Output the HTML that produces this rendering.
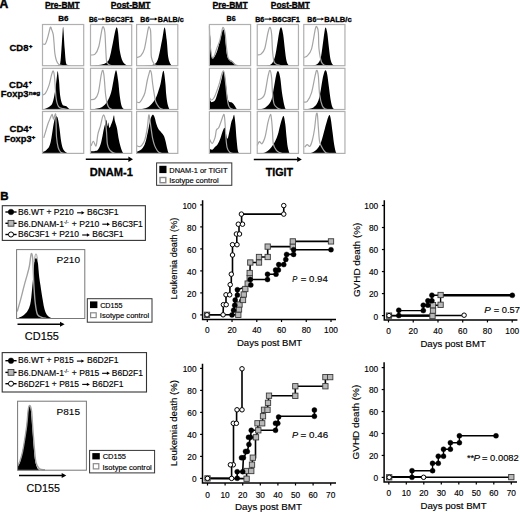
<!DOCTYPE html>
<html><head><meta charset="utf-8"><style>
html,body{margin:0;padding:0;background:#fff;}
body{width:520px;height:512px;overflow:hidden;}
svg{display:block;}
text{font-family:"Liberation Sans", sans-serif;fill:#000;}
</style></head><body>
<svg width="520" height="512" viewBox="0 0 520 512">
<rect width="520" height="512" fill="#fff"/>
<path d="M56.10,65.70 C56.44,65.60 57.47,65.49 58.16,65.08 C58.84,64.67 59.67,65.87 60.22,63.23 C60.77,60.58 61.04,54.64 61.45,49.22 C61.86,43.80 62.41,34.39 62.69,30.68 C62.96,26.97 62.96,26.97 63.10,26.97 C63.24,26.97 63.24,26.97 63.51,30.68 C63.79,34.39 64.34,43.86 64.75,49.22 C65.16,54.58 65.43,60.17 65.98,62.82 C66.53,65.46 67.29,64.60 68.04,65.08 C68.80,65.56 70.10,65.60 70.52,65.70 L70.52,65.70 L56.10,65.70 Z" fill="#000"/>
<path d="M42.50,43.86 C42.98,43.86 44.49,45.03 45.38,43.86 C46.28,42.70 47.03,39.61 47.86,36.86 C48.68,34.11 49.71,28.62 50.33,27.38 C50.95,26.15 51.08,28.28 51.56,29.44 C52.04,30.61 52.80,32.12 53.21,34.39 C53.62,36.65 53.76,39.88 54.04,43.04 C54.31,46.20 54.45,50.39 54.86,53.34 C55.27,56.29 55.82,58.90 56.51,60.76 C57.19,62.61 57.88,63.64 58.98,64.46 C60.08,65.29 62.41,65.49 63.10,65.70" fill="none" stroke="#a4a4a4" stroke-width="1.2"/>
<rect x="42.50" y="24.50" width="41.20" height="41.20" fill="none" stroke="#b0b0b0" stroke-width="1.2"/>
<path d="M43.32,109.50 C44.25,109.09 47.38,108.06 48.89,107.03 C50.40,106.00 51.39,105.72 52.39,103.32 C53.38,100.92 54.10,97.07 54.86,92.61 C55.62,88.14 56.44,80.11 56.92,76.54 C57.40,72.97 57.40,70.57 57.74,71.18 C58.09,71.80 58.57,76.13 58.98,80.25 C59.39,84.37 59.67,91.92 60.22,95.90 C60.77,99.89 61.52,102.50 62.28,104.14 C63.03,105.79 64.06,105.45 64.75,105.79 C65.43,106.14 65.78,105.79 66.40,106.20 C67.01,106.62 67.84,107.71 68.46,108.26 C69.07,108.81 69.83,109.29 70.10,109.50 L70.10,109.50 L43.32,109.50 Z" fill="#000"/>
<path d="M42.50,95.08 C42.98,94.81 44.32,95.01 45.38,93.43 C46.45,91.85 47.86,88.69 48.89,85.60 C49.92,82.51 50.84,77.33 51.56,74.89 C52.28,72.45 52.73,70.70 53.21,70.98 C53.69,71.25 53.97,72.04 54.45,76.54 C54.93,81.04 55.41,92.95 56.10,97.96 C56.78,102.98 57.40,104.83 58.57,106.62 C59.74,108.40 61.66,108.20 63.10,108.68 C64.54,109.16 66.53,109.36 67.22,109.50" fill="none" stroke="#a4a4a4" stroke-width="1.2"/>
<rect x="42.50" y="68.30" width="41.20" height="41.20" fill="none" stroke="#b0b0b0" stroke-width="1.2"/>
<path d="M42.50,152.14 C42.84,152.00 43.87,151.72 44.56,151.31 C45.25,150.89 45.86,150.40 46.62,149.63 C47.38,148.86 48.41,148.02 49.09,146.70 C49.78,145.37 50.26,143.69 50.74,141.67 C51.22,139.64 51.56,137.06 51.98,134.55 C52.39,132.03 52.80,129.03 53.21,126.58 C53.62,124.14 54.04,121.49 54.45,119.88 C54.86,118.27 55.27,117.51 55.68,116.95 C56.10,116.39 56.51,116.04 56.92,116.53 C57.33,117.02 57.71,117.78 58.16,119.88 C58.60,121.97 59.12,125.61 59.60,129.10 C60.08,132.59 60.53,137.69 61.04,140.83 C61.56,143.97 62.00,146.14 62.69,147.95 C63.37,149.77 64.27,150.82 65.16,151.72 C66.05,152.63 67.56,153.12 68.04,153.40 L68.04,153.40 L42.50,153.40 Z" fill="#000"/>
<path d="M43.74,137.90 C44.01,136.99 44.66,134.86 45.38,132.45 C46.11,130.04 47.24,125.84 48.06,123.44 C48.89,121.05 49.68,119.58 50.33,118.08 C50.98,116.58 51.56,114.69 51.98,114.43 C52.39,114.17 52.53,115.76 52.80,116.53 C53.07,117.30 53.28,119.25 53.62,119.04 C53.97,118.83 54.52,116.04 54.86,115.27 C55.20,114.50 55.48,112.97 55.68,114.43 C55.89,115.90 55.96,120.30 56.10,124.07 C56.23,127.84 56.16,133.15 56.51,137.06 C56.85,140.97 57.47,145.02 58.16,147.53 C58.84,150.05 59.67,151.17 60.63,152.14 C61.59,153.12 63.37,153.19 63.92,153.40" fill="none" stroke="#a4a4a4" stroke-width="1.2"/>
<rect x="42.50" y="111.50" width="41.20" height="41.90" fill="none" stroke="#b0b0b0" stroke-width="1.2"/>
<path d="M93.80,65.70 C94.62,65.60 97.23,65.32 98.74,65.08 C100.25,64.84 101.62,64.64 102.86,64.26 C104.10,63.88 105.06,63.81 106.16,62.82 C107.25,61.82 108.35,61.51 109.45,58.28 C110.55,55.06 111.79,47.98 112.75,43.45 C113.71,38.92 114.53,33.77 115.22,31.09 C115.91,28.41 116.39,27.11 116.87,27.38 C117.35,27.66 117.62,28.89 118.10,32.74 C118.58,36.59 119.00,45.72 119.75,50.46 C120.51,55.19 121.54,58.76 122.64,61.17 C123.73,63.57 125.38,64.12 126.34,64.88 C127.31,65.63 128.06,65.56 128.40,65.70 L128.40,65.70 L93.80,65.70 Z" fill="#000"/>
<path d="M90.50,54.99 C91.26,54.85 93.66,55.54 95.03,54.16 C96.41,52.79 97.57,50.94 98.74,46.75 C99.91,42.56 101.21,32.26 102.04,29.03 C102.86,25.80 103.20,26.77 103.68,27.38 C104.16,28.00 104.58,29.17 104.92,32.74 C105.26,36.31 105.47,44.07 105.74,48.81 C106.02,53.55 106.09,58.56 106.57,61.17 C107.05,63.78 107.74,63.71 108.63,64.46 C109.52,65.22 111.37,65.49 111.92,65.70" fill="none" stroke="#a4a4a4" stroke-width="1.2"/>
<rect x="90.50" y="24.50" width="41.20" height="41.20" fill="none" stroke="#b0b0b0" stroke-width="1.2"/>
<path d="M92.97,109.50 C94.48,109.09 99.63,108.40 102.04,107.03 C104.44,105.65 105.88,103.66 107.39,101.26 C108.90,98.86 110.07,96.11 111.10,92.61 C112.13,89.11 112.75,83.96 113.57,80.25 C114.40,76.54 115.29,70.36 116.04,70.36 C116.80,70.36 117.49,75.99 118.10,80.25 C118.72,84.51 119.13,91.51 119.75,95.90 C120.37,100.30 121.06,104.35 121.81,106.62 C122.57,108.88 123.87,109.02 124.28,109.50 L124.28,109.50 L92.97,109.50 Z" fill="#000"/>
<path d="M90.50,99.61 C91.26,99.47 93.73,99.96 95.03,98.79 C96.34,97.62 97.30,96.59 98.33,92.61 C99.36,88.63 100.46,78.60 101.21,74.89 C101.97,71.18 102.38,70.09 102.86,70.36 C103.34,70.63 103.62,72.28 104.10,76.54 C104.58,80.80 105.06,90.89 105.74,95.90 C106.43,100.92 107.19,104.35 108.22,106.62 C109.25,108.88 111.31,109.02 111.92,109.50" fill="none" stroke="#a4a4a4" stroke-width="1.2"/>
<rect x="90.50" y="68.30" width="41.20" height="41.20" fill="none" stroke="#b0b0b0" stroke-width="1.2"/>
<path d="M90.50,151.72 C90.60,151.65 90.36,151.44 91.12,151.31 C91.87,151.17 93.90,151.17 95.03,150.89 C96.16,150.61 96.99,150.75 97.92,149.63 C98.84,148.51 99.84,146.42 100.59,144.18 C101.35,141.95 101.86,138.94 102.45,136.22 C103.03,133.50 103.51,130.29 104.10,127.84 C104.68,125.40 105.54,122.88 105.95,121.56 C106.36,120.23 106.33,119.11 106.57,119.88 C106.81,120.65 107.12,125.75 107.39,126.16 C107.67,126.58 107.87,122.11 108.22,122.39 C108.56,122.67 108.97,127.49 109.45,127.84 C109.93,128.19 110.55,125.82 111.10,124.49 C111.65,123.16 112.27,121.42 112.75,119.88 C113.23,118.34 113.64,115.13 113.98,115.27 C114.33,115.41 114.33,118.62 114.81,120.72 C115.29,122.81 116.25,124.98 116.87,127.84 C117.49,130.70 117.90,134.75 118.52,137.90 C119.13,141.04 119.89,144.32 120.58,146.70 C121.26,149.07 122.02,151.03 122.64,152.14 C123.25,153.26 124.01,153.19 124.28,153.40 L124.28,153.40 L90.50,153.40 Z" fill="#000"/>
<path d="M91.12,145.86 C91.50,145.09 92.56,141.25 93.38,141.25 C94.21,141.25 95.31,147.05 96.06,145.86 C96.82,144.67 97.16,137.55 97.92,134.13 C98.67,130.70 99.84,128.16 100.59,125.33 C101.35,122.50 101.93,118.90 102.45,117.16 C102.96,115.41 103.31,114.85 103.68,114.85 C104.06,114.85 104.41,116.04 104.71,117.16 C105.02,118.27 105.23,119.01 105.54,121.56 C105.85,124.10 106.26,128.68 106.57,132.45 C106.88,136.22 106.91,141.32 107.39,144.18 C107.87,147.05 108.63,148.30 109.45,149.63 C110.28,150.96 111.37,151.51 112.34,152.14 C113.30,152.77 114.74,153.19 115.22,153.40" fill="none" stroke="#a4a4a4" stroke-width="1.2"/>
<rect x="90.50" y="111.50" width="41.20" height="41.90" fill="none" stroke="#b0b0b0" stroke-width="1.2"/>
<path d="M144.84,65.70 C145.53,65.63 147.24,65.63 148.96,65.29 C150.68,64.94 153.56,64.94 155.14,63.64 C156.72,62.34 157.27,61.44 158.44,57.46 C159.60,53.48 161.11,44.76 162.14,39.74 C163.17,34.73 163.86,27.38 164.62,27.38 C165.37,27.38 166.06,34.73 166.68,39.74 C167.29,44.76 167.64,53.34 168.32,57.46 C169.01,61.58 170.04,63.09 170.80,64.46 C171.55,65.84 172.51,65.49 172.86,65.70 L172.86,65.70 L144.84,65.70 Z" fill="#000"/>
<path d="M136.60,57.46 C137.29,57.19 139.42,57.25 140.72,55.81 C142.02,54.37 143.19,53.27 144.43,48.81 C145.66,44.34 147.31,32.60 148.14,29.03 C148.96,25.46 148.96,27.07 149.37,27.38 C149.78,27.69 150.33,28.28 150.61,30.89 C150.88,33.50 150.88,38.61 151.02,43.04 C151.16,47.47 150.88,53.89 151.43,57.46 C151.98,61.03 153.35,63.09 154.32,64.46 C155.28,65.84 156.72,65.49 157.20,65.70" fill="none" stroke="#a4a4a4" stroke-width="1.2"/>
<rect x="136.60" y="24.50" width="41.20" height="41.20" fill="none" stroke="#b0b0b0" stroke-width="1.2"/>
<path d="M139.48,109.50 C140.79,109.16 145.25,108.40 147.31,107.44 C149.37,106.48 150.47,105.24 151.84,103.73 C153.22,102.22 154.52,100.30 155.55,98.38 C156.58,96.45 157.20,94.60 158.02,92.20 C158.85,89.79 159.81,86.84 160.50,83.96 C161.18,81.07 161.66,77.09 162.14,74.89 C162.62,72.69 163.04,71.05 163.38,70.77 C163.72,70.50 163.86,71.05 164.20,73.24 C164.55,75.44 165.10,80.32 165.44,83.96 C165.78,87.60 165.92,91.78 166.26,95.08 C166.61,98.38 167.02,101.47 167.50,103.73 C167.98,106.00 168.67,107.71 169.15,108.68 C169.63,109.64 170.18,109.36 170.38,109.50 L170.38,109.50 L139.48,109.50 Z" fill="#000"/>
<path d="M137.01,102.08 C137.42,102.15 138.66,102.98 139.48,102.50 C140.31,102.02 141.06,100.78 141.96,99.20 C142.85,97.62 143.95,96.18 144.84,93.02 C145.73,89.86 146.56,83.68 147.31,80.25 C148.07,76.81 148.89,74.07 149.37,72.42 C149.85,70.77 149.85,70.22 150.20,70.36 C150.54,70.50 151.02,70.98 151.43,73.24 C151.84,75.51 152.19,80.39 152.67,83.96 C153.15,87.53 153.84,91.78 154.32,94.67 C154.80,97.55 155.00,99.47 155.55,101.26 C156.10,103.05 156.86,104.21 157.61,105.38 C158.37,106.55 159.12,107.58 160.08,108.26 C161.05,108.95 162.83,109.29 163.38,109.50" fill="none" stroke="#a4a4a4" stroke-width="1.2"/>
<rect x="136.60" y="68.30" width="41.20" height="41.20" fill="none" stroke="#b0b0b0" stroke-width="1.2"/>
<path d="M136.60,151.72 C136.94,151.58 137.84,151.31 138.66,150.89 C139.48,150.47 140.65,150.05 141.54,149.21 C142.44,148.37 143.26,147.39 144.02,145.86 C144.77,144.32 145.39,142.58 146.08,139.99 C146.76,137.41 147.52,133.36 148.14,130.35 C148.75,127.35 149.23,124.28 149.78,121.97 C150.33,119.67 150.88,117.72 151.43,116.53 C151.98,115.34 152.53,114.64 153.08,114.85 C153.63,115.06 154.18,116.25 154.73,117.78 C155.28,119.32 155.76,122.18 156.38,124.07 C156.99,125.96 157.61,127.70 158.44,129.10 C159.26,130.49 160.43,131.33 161.32,132.45 C162.21,133.57 163.11,134.41 163.79,135.80 C164.48,137.20 164.89,138.73 165.44,140.83 C165.99,142.92 166.61,146.42 167.09,148.37 C167.57,150.33 167.91,151.72 168.32,152.56 C168.74,153.40 169.35,153.26 169.56,153.40 L169.56,153.40 L136.60,153.40 Z" fill="#000"/>
<path d="M137.01,145.86 C137.42,146.00 138.66,146.84 139.48,146.70 C140.31,146.56 141.06,146.21 141.96,145.02 C142.85,143.83 143.95,142.44 144.84,139.57 C145.73,136.71 146.66,131.89 147.31,127.84 C147.96,123.79 148.34,116.74 148.75,115.27 C149.17,113.80 149.41,116.95 149.78,119.04 C150.16,121.14 150.54,124.56 151.02,127.84 C151.50,131.12 152.05,135.73 152.67,138.74 C153.29,141.74 153.97,143.90 154.73,145.86 C155.48,147.81 156.51,149.42 157.20,150.47 C157.89,151.51 158.16,151.65 158.85,152.14 C159.53,152.63 160.91,153.19 161.32,153.40" fill="none" stroke="#a4a4a4" stroke-width="1.2"/>
<rect x="136.60" y="111.50" width="41.20" height="41.90" fill="none" stroke="#b0b0b0" stroke-width="1.2"/>
<path d="M209.40,29.44 C209.54,30.68 209.98,33.56 210.22,36.86 C210.46,40.16 210.57,45.92 210.84,49.22 C211.12,52.52 211.43,55.26 211.87,56.64 C212.32,58.01 212.97,57.67 213.52,57.46 C214.07,57.25 214.55,56.50 215.17,55.40 C215.79,54.30 216.47,53.13 217.23,50.87 C217.98,48.60 219.01,44.48 219.70,41.80 C220.39,39.13 220.80,36.86 221.35,34.80 C221.90,32.74 222.45,29.79 223.00,29.44 C223.55,29.10 224.16,30.20 224.64,32.74 C225.12,35.28 225.47,40.91 225.88,44.69 C226.29,48.46 226.57,52.93 227.12,55.40 C227.67,57.87 228.42,58.63 229.18,59.52 C229.93,60.41 230.82,60.14 231.65,60.76 C232.47,61.37 233.30,62.40 234.12,63.23 C234.94,64.05 236.18,65.29 236.59,65.70 L236.59,65.70 L209.40,65.70 Z" fill="#000"/>
<path d="M209.40,25.74 C209.47,27.59 209.61,32.95 209.81,36.86 C210.02,40.77 210.22,45.72 210.64,49.22 C211.05,52.72 211.70,56.70 212.28,57.87 C212.87,59.04 213.52,57.39 214.14,56.22 C214.76,55.06 215.48,52.38 215.99,50.87 C216.51,49.36 216.61,48.81 217.23,47.16 C217.85,45.51 219.01,43.25 219.70,40.98 C220.39,38.71 220.80,35.83 221.35,33.56 C221.90,31.30 222.38,27.52 223.00,27.38 C223.61,27.25 224.51,29.72 225.06,32.74 C225.61,35.76 225.81,41.46 226.29,45.51 C226.77,49.56 227.25,54.51 227.94,57.05 C228.63,59.59 229.73,60.00 230.41,60.76 C231.10,61.51 231.30,60.96 232.06,61.58 C232.82,62.20 233.91,63.78 234.94,64.46 C235.97,65.15 237.69,65.49 238.24,65.70" fill="none" stroke="#a4a4a4" stroke-width="1.2"/>
<rect x="209.40" y="24.50" width="41.20" height="41.20" fill="none" stroke="#b0b0b0" stroke-width="1.2"/>
<path d="M209.40,97.96 C209.61,98.51 210.16,100.57 210.64,101.26 C211.12,101.95 211.53,102.29 212.28,102.08 C213.04,101.88 214.28,101.53 215.17,100.02 C216.06,98.51 216.75,95.84 217.64,93.02 C218.53,90.20 219.77,85.95 220.52,83.13 C221.28,80.32 221.69,78.12 222.17,76.13 C222.65,74.14 223.00,71.39 223.41,71.18 C223.82,70.98 224.23,72.76 224.64,74.89 C225.06,77.02 225.47,80.66 225.88,83.96 C226.29,87.25 226.70,91.92 227.12,94.67 C227.53,97.41 227.87,99.20 228.35,100.44 C228.83,101.67 229.31,101.67 230.00,102.08 C230.69,102.50 231.72,102.36 232.47,102.91 C233.23,103.46 233.85,104.42 234.53,105.38 C235.22,106.34 236.04,107.99 236.59,108.68 C237.14,109.36 237.62,109.36 237.83,109.50 L237.83,109.50 L209.40,109.50 Z" fill="#000"/>
<path d="M209.40,97.55 C209.74,97.96 210.67,100.02 211.46,100.02 C212.25,100.02 213.25,99.06 214.14,97.55 C215.03,96.04 215.89,93.50 216.82,90.96 C217.74,88.42 218.88,85.12 219.70,82.31 C220.52,79.49 221.14,75.99 221.76,74.07 C222.38,72.15 222.93,70.63 223.41,70.77 C223.89,70.91 224.23,72.42 224.64,74.89 C225.06,77.36 225.47,81.83 225.88,85.60 C226.29,89.38 226.67,94.26 227.12,97.55 C227.56,100.85 228.01,103.59 228.56,105.38 C229.11,107.17 229.62,107.58 230.41,108.26 C231.20,108.95 232.82,109.29 233.30,109.50" fill="none" stroke="#a4a4a4" stroke-width="1.2"/>
<rect x="209.40" y="68.30" width="41.20" height="41.20" fill="none" stroke="#b0b0b0" stroke-width="1.2"/>
<path d="M209.40,148.79 C209.88,148.93 211.32,149.98 212.28,149.63 C213.25,149.28 214.28,147.60 215.17,146.70 C216.06,145.79 216.75,145.65 217.64,144.18 C218.53,142.72 219.70,139.99 220.52,137.90 C221.35,135.80 221.90,133.29 222.58,131.61 C223.27,129.94 224.09,127.56 224.64,127.84 C225.19,128.12 225.40,131.47 225.88,133.29 C226.36,135.10 226.91,139.15 227.53,138.74 C228.15,138.32 228.97,133.50 229.59,130.77 C230.21,128.05 230.69,124.49 231.24,122.39 C231.79,120.30 232.40,119.46 232.88,118.20 C233.36,116.95 233.71,113.94 234.12,114.85 C234.53,115.76 234.94,119.53 235.36,123.65 C235.77,127.77 236.18,135.10 236.59,139.57 C237.00,144.04 237.42,148.23 237.83,150.47 C238.24,152.70 238.72,152.49 239.06,152.98 C239.41,153.47 239.75,153.33 239.89,153.40 L239.89,153.40 L209.40,153.40 Z" fill="#000"/>
<path d="M209.40,138.74 C209.88,139.50 211.32,143.62 212.28,143.34 C213.25,143.06 214.48,139.29 215.17,137.06 C215.85,134.82 215.82,131.47 216.40,129.94 C216.99,128.40 217.85,129.38 218.67,127.84 C219.49,126.30 220.46,122.95 221.35,120.72 C222.24,118.48 223.41,113.94 224.03,114.43 C224.64,114.92 224.75,119.88 225.06,123.65 C225.37,127.42 225.54,133.08 225.88,137.06 C226.22,141.04 226.50,145.02 227.12,147.53 C227.73,150.05 228.70,151.17 229.59,152.14 C230.48,153.12 231.99,153.19 232.47,153.40" fill="none" stroke="#a4a4a4" stroke-width="1.2"/>
<rect x="209.40" y="111.50" width="41.20" height="41.90" fill="none" stroke="#b0b0b0" stroke-width="1.2"/>
<path d="M266.31,65.70 C267.21,65.36 270.23,65.15 271.67,63.64 C273.11,62.13 274.00,60.07 274.97,56.64 C275.93,53.20 276.68,47.37 277.44,43.04 C278.19,38.71 278.85,33.29 279.50,30.68 C280.15,28.07 280.73,26.70 281.35,27.38 C281.97,28.07 282.62,31.16 283.21,34.80 C283.79,38.44 284.30,44.89 284.85,49.22 C285.40,53.55 285.88,58.08 286.50,60.76 C287.12,63.43 287.94,64.46 288.56,65.29 C289.18,66.11 289.94,65.63 290.21,65.70 L290.21,65.70 L266.31,65.70 Z" fill="#000"/>
<path d="M257.25,54.99 C257.87,54.85 259.72,55.19 260.96,54.16 C262.19,53.13 263.50,52.38 264.67,48.81 C265.83,45.24 267.07,36.31 267.96,32.74 C268.85,29.17 269.40,27.11 270.02,27.38 C270.64,27.66 271.26,30.54 271.67,34.39 C272.08,38.23 272.08,45.86 272.49,50.46 C272.91,55.06 273.25,59.59 274.14,61.99 C275.03,64.40 276.68,64.26 277.85,64.88 C279.02,65.49 280.60,65.56 281.15,65.70" fill="none" stroke="#a4a4a4" stroke-width="1.2"/>
<rect x="257.25" y="24.50" width="41.20" height="41.20" fill="none" stroke="#b0b0b0" stroke-width="1.2"/>
<path d="M257.25,109.50 C257.73,109.43 258.76,109.43 260.13,109.09 C261.51,108.74 263.70,108.74 265.49,107.44 C267.28,106.14 269.54,104.01 270.85,101.26 C272.15,98.51 272.43,95.35 273.32,90.96 C274.21,86.57 275.38,78.19 276.20,74.89 C277.03,71.60 277.58,70.63 278.26,71.18 C278.95,71.73 279.70,74.62 280.32,78.19 C280.94,81.76 281.35,88.28 281.97,92.61 C282.59,96.93 283.41,101.40 284.03,104.14 C284.65,106.89 285.20,108.20 285.68,109.09 C286.16,109.98 286.71,109.43 286.91,109.50 L286.91,109.50 L257.25,109.50 Z" fill="#000"/>
<path d="M257.25,99.61 C257.87,99.47 259.72,99.68 260.96,98.79 C262.19,97.90 263.50,97.96 264.67,94.26 C265.83,90.55 267.07,80.52 267.96,76.54 C268.85,72.56 269.40,70.09 270.02,70.36 C270.64,70.63 271.26,74.48 271.67,78.19 C272.08,81.90 272.08,88.28 272.49,92.61 C272.91,96.93 273.25,101.53 274.14,104.14 C275.03,106.75 276.68,107.37 277.85,108.26 C279.02,109.16 280.60,109.29 281.15,109.50" fill="none" stroke="#a4a4a4" stroke-width="1.2"/>
<rect x="257.25" y="68.30" width="41.20" height="41.20" fill="none" stroke="#b0b0b0" stroke-width="1.2"/>
<path d="M261.37,153.40 C262.06,153.19 264.12,152.84 265.49,152.14 C266.86,151.44 268.37,150.40 269.61,149.21 C270.85,148.02 271.94,146.42 272.91,145.02 C273.87,143.62 274.55,142.58 275.38,140.83 C276.20,139.08 277.09,136.99 277.85,134.55 C278.61,132.10 279.22,128.75 279.91,126.16 C280.60,123.58 281.35,120.72 281.97,119.04 C282.59,117.37 283.07,115.27 283.62,116.11 C284.17,116.95 284.79,120.65 285.27,124.07 C285.75,127.49 286.09,132.80 286.50,136.64 C286.91,140.48 287.26,144.39 287.74,147.12 C288.22,149.84 288.97,151.93 289.39,152.98 C289.80,154.03 290.07,153.33 290.21,153.40 L290.21,153.40 L261.37,153.40 Z" fill="#000"/>
<path d="M257.25,145.44 C257.59,144.81 258.52,141.95 259.31,141.67 C260.10,141.39 261.10,144.32 261.99,143.76 C262.88,143.20 263.94,140.41 264.67,138.32 C265.39,136.22 265.76,133.85 266.31,131.19 C266.86,128.54 267.28,125.19 267.96,122.39 C268.65,119.60 269.82,114.71 270.43,114.43 C271.05,114.15 271.33,117.92 271.67,120.72 C272.01,123.51 272.22,127.35 272.49,131.19 C272.77,135.03 272.70,140.62 273.32,143.76 C273.94,146.91 275.17,148.58 276.20,150.05 C277.23,151.51 278.54,152.00 279.50,152.56 C280.46,153.12 281.56,153.26 281.97,153.40" fill="none" stroke="#a4a4a4" stroke-width="1.2"/>
<rect x="257.25" y="111.50" width="41.20" height="41.90" fill="none" stroke="#b0b0b0" stroke-width="1.2"/>
<path d="M311.99,65.70 C312.88,65.43 315.90,65.29 317.35,64.05 C318.79,62.82 319.75,61.44 320.64,58.28 C321.53,55.13 322.08,49.36 322.70,45.10 C323.32,40.84 323.87,35.69 324.35,32.74 C324.83,29.79 325.11,27.38 325.59,27.38 C326.07,27.38 326.68,29.44 327.23,32.74 C327.78,36.04 328.33,42.70 328.88,47.16 C329.43,51.62 329.91,56.64 330.53,59.52 C331.15,62.40 331.90,63.43 332.59,64.46 C333.28,65.49 334.31,65.49 334.65,65.70 L334.65,65.70 L311.99,65.70 Z" fill="#000"/>
<path d="M303.75,57.46 C304.33,57.19 305.95,57.25 307.25,55.81 C308.56,54.37 310.24,53.27 311.58,48.81 C312.92,44.34 314.39,32.67 315.29,29.03 C316.18,25.39 316.42,26.35 316.93,26.97 C317.45,27.59 318.03,29.10 318.38,32.74 C318.72,36.38 318.48,43.93 318.99,48.81 C319.51,53.68 320.50,59.25 321.47,61.99 C322.43,64.74 323.73,64.67 324.76,65.29 C325.79,65.91 327.17,65.63 327.65,65.70" fill="none" stroke="#a4a4a4" stroke-width="1.2"/>
<rect x="303.75" y="24.50" width="41.20" height="41.20" fill="none" stroke="#b0b0b0" stroke-width="1.2"/>
<path d="M303.75,109.50 C304.16,109.43 304.61,109.43 306.22,109.09 C307.84,108.74 311.51,108.61 313.43,107.44 C315.35,106.27 316.62,104.49 317.76,102.08 C318.89,99.68 319.47,96.59 320.23,93.02 C320.99,89.45 321.67,83.96 322.29,80.66 C322.91,77.36 323.39,74.96 323.94,73.24 C324.49,71.53 325.04,70.15 325.59,70.36 C326.14,70.57 326.68,71.73 327.23,74.48 C327.78,77.23 328.33,82.72 328.88,86.84 C329.43,90.96 329.98,95.90 330.53,99.20 C331.08,102.50 331.63,104.97 332.18,106.62 C332.73,108.26 333.35,108.61 333.83,109.09 C334.31,109.57 334.86,109.43 335.06,109.50 L335.06,109.50 L303.75,109.50 Z" fill="#000"/>
<path d="M303.75,102.08 C304.33,101.95 305.95,102.84 307.25,101.26 C308.56,99.68 310.24,97.00 311.58,92.61 C312.92,88.21 314.39,78.60 315.29,74.89 C316.18,71.18 316.42,70.09 316.93,70.36 C317.45,70.63 317.93,72.56 318.38,76.54 C318.82,80.52 318.96,89.38 319.61,94.26 C320.26,99.13 321.29,103.32 322.29,105.79 C323.29,108.26 324.56,108.47 325.59,109.09 C326.62,109.71 327.99,109.43 328.47,109.50" fill="none" stroke="#a4a4a4" stroke-width="1.2"/>
<rect x="303.75" y="68.30" width="41.20" height="41.20" fill="none" stroke="#b0b0b0" stroke-width="1.2"/>
<path d="M308.69,153.40 C309.38,153.19 311.44,152.84 312.81,152.14 C314.19,151.44 315.70,150.54 316.93,149.21 C318.17,147.88 319.27,146.28 320.23,144.18 C321.19,142.09 321.95,139.15 322.70,136.64 C323.46,134.13 324.08,131.61 324.76,129.10 C325.45,126.58 326.20,123.65 326.82,121.56 C327.44,119.46 327.99,117.58 328.47,116.53 C328.95,115.48 329.29,114.71 329.71,115.27 C330.12,115.83 330.46,117.02 330.94,119.88 C331.42,122.74 332.04,128.26 332.59,132.45 C333.14,136.64 333.69,141.74 334.24,145.02 C334.79,148.30 335.34,150.75 335.89,152.14 C336.44,153.54 337.26,153.19 337.53,153.40 L337.53,153.40 L308.69,153.40 Z" fill="#000"/>
<path d="M304.57,147.12 C305.02,146.70 306.36,144.74 307.25,144.60 C308.14,144.46 309.07,147.05 309.93,146.28 C310.79,145.51 311.65,142.79 312.40,139.99 C313.16,137.20 313.84,133.64 314.46,129.52 C315.08,125.40 315.63,117.78 316.11,115.27 C316.59,112.76 316.97,112.34 317.35,114.43 C317.72,116.53 318.00,123.30 318.38,127.84 C318.75,132.38 318.96,138.32 319.61,141.67 C320.26,145.02 321.29,146.14 322.29,147.95 C323.29,149.77 324.56,151.65 325.59,152.56 C326.62,153.47 327.99,153.26 328.47,153.40" fill="none" stroke="#a4a4a4" stroke-width="1.2"/>
<rect x="303.75" y="111.50" width="41.20" height="41.90" fill="none" stroke="#b0b0b0" stroke-width="1.2"/>
<text x="-0.50" y="8.30" font-size="12.20" font-weight="bold" font-style="normal" textLength="8.73" lengthAdjust="spacingAndGlyphs" stroke="#000" stroke-width="0.50" >A</text>
<text x="44.95" y="7.70" font-size="8.35" font-weight="bold" font-style="normal" textLength="34.75" lengthAdjust="spacingAndGlyphs" stroke="#000" stroke-width="0.30" >Pre-BMT</text>
<line x1="45.50" y1="8.60" x2="79.60" y2="8.60" stroke="#000" stroke-width="0.9"/>
<text x="110.75" y="7.70" font-size="8.40" font-weight="bold" font-style="normal" textLength="39.75" lengthAdjust="spacingAndGlyphs" stroke="#000" stroke-width="0.30" >Post-BMT</text>
<line x1="111.30" y1="8.60" x2="150.40" y2="8.60" stroke="#000" stroke-width="0.9"/>
<text x="212.44" y="7.70" font-size="8.45" font-weight="bold" font-style="normal" textLength="35.36" lengthAdjust="spacingAndGlyphs" stroke="#000" stroke-width="0.30" >Pre-BMT</text>
<line x1="213.00" y1="8.60" x2="247.70" y2="8.60" stroke="#000" stroke-width="0.9"/>
<text x="270.86" y="7.70" font-size="8.29" font-weight="bold" font-style="normal" textLength="39.04" lengthAdjust="spacingAndGlyphs" stroke="#000" stroke-width="0.30" >Post-BMT</text>
<line x1="271.40" y1="8.60" x2="309.80" y2="8.60" stroke="#000" stroke-width="0.9"/>
<text x="58.23" y="21.40" font-size="7.76" font-weight="bold" font-style="normal" textLength="10.17" lengthAdjust="spacingAndGlyphs" stroke="#000" stroke-width="0.30" >B6</text>
<text x="88.96" y="21.60" font-size="7.06" font-weight="bold" font-style="normal" textLength="8.59" lengthAdjust="spacingAndGlyphs" stroke="#000" stroke-width="0.30" >B6</text>
<line x1="98.00" y1="19.10" x2="102.70" y2="19.10" stroke="#000" stroke-width="1.00"/>
<path d="M105.20,19.10 L102.40,17.60 L102.40,20.60 Z" fill="#000"/>
<text x="105.20" y="21.60" font-size="7.69" font-weight="bold" font-style="normal" textLength="28.38" lengthAdjust="spacingAndGlyphs" stroke="#000" stroke-width="0.30" >B6C3F1</text>
<text x="140.35" y="21.60" font-size="7.24" font-weight="bold" font-style="normal" textLength="8.92" lengthAdjust="spacingAndGlyphs" stroke="#000" stroke-width="0.30" >B6</text>
<line x1="149.50" y1="19.10" x2="155.10" y2="19.10" stroke="#000" stroke-width="1.00"/>
<path d="M157.60,19.10 L154.80,17.60 L154.80,20.60 Z" fill="#000"/>
<text x="157.83" y="21.60" font-size="7.31" font-weight="bold" font-style="normal" textLength="25.99" lengthAdjust="spacingAndGlyphs" stroke="#000" stroke-width="0.30" >BALB/c</text>
<text x="226.54" y="21.40" font-size="7.19" font-weight="bold" font-style="normal" textLength="9.14" lengthAdjust="spacingAndGlyphs" stroke="#000" stroke-width="0.30" >B6</text>
<text x="255.24" y="21.60" font-size="7.30" font-weight="bold" font-style="normal" textLength="9.03" lengthAdjust="spacingAndGlyphs" stroke="#000" stroke-width="0.30" >B6</text>
<line x1="264.50" y1="19.10" x2="269.70" y2="19.10" stroke="#000" stroke-width="1.00"/>
<path d="M272.20,19.10 L269.40,17.60 L269.40,20.60 Z" fill="#000"/>
<text x="272.22" y="21.60" font-size="7.54" font-weight="bold" font-style="normal" textLength="27.56" lengthAdjust="spacingAndGlyphs" stroke="#000" stroke-width="0.30" >B6C3F1</text>
<text x="307.35" y="21.60" font-size="7.24" font-weight="bold" font-style="normal" textLength="8.92" lengthAdjust="spacingAndGlyphs" stroke="#000" stroke-width="0.30" >B6</text>
<line x1="316.50" y1="19.10" x2="321.70" y2="19.10" stroke="#000" stroke-width="1.00"/>
<path d="M324.20,19.10 L321.40,17.60 L321.40,20.60 Z" fill="#000"/>
<text x="324.21" y="21.60" font-size="7.59" font-weight="bold" font-style="normal" textLength="27.43" lengthAdjust="spacingAndGlyphs" stroke="#000" stroke-width="0.30" >BALB/c</text>
<text x="9.52" y="51.25" font-size="9.45" font-weight="bold" font-style="normal" textLength="18.87" lengthAdjust="spacingAndGlyphs" stroke="#000" stroke-width="0.30" >CD8</text>
<text x="28.97" y="47.80" font-size="5.51" font-weight="bold" font-style="normal" textLength="3.35" lengthAdjust="spacingAndGlyphs" stroke="#000" stroke-width="0.45" >+</text>
<text x="9.12" y="87.50" font-size="9.45" font-weight="bold" font-style="normal" textLength="19.03" lengthAdjust="spacingAndGlyphs" stroke="#000" stroke-width="0.30" >CD4</text>
<text x="28.79" y="84.20" font-size="5.09" font-weight="bold" font-style="normal" textLength="3.01" lengthAdjust="spacingAndGlyphs" stroke="#000" stroke-width="0.45" >+</text>
<text x="0.69" y="96.70" font-size="9.42" font-weight="bold" font-style="normal" textLength="27.74" lengthAdjust="spacingAndGlyphs" stroke="#000" stroke-width="0.30" >Foxp3</text>
<text x="28.78" y="94.70" font-size="5.60" font-weight="bold" font-style="normal" textLength="11.46" lengthAdjust="spacingAndGlyphs" stroke="#000" stroke-width="0.30" >neg</text>
<text x="9.52" y="132.10" font-size="9.45" font-weight="bold" font-style="normal" textLength="19.03" lengthAdjust="spacingAndGlyphs" stroke="#000" stroke-width="0.30" >CD4</text>
<text x="28.79" y="128.80" font-size="5.09" font-weight="bold" font-style="normal" textLength="3.01" lengthAdjust="spacingAndGlyphs" stroke="#000" stroke-width="0.45" >+</text>
<text x="4.19" y="142.10" font-size="9.35" font-weight="bold" font-style="normal" textLength="27.53" lengthAdjust="spacingAndGlyphs" stroke="#000" stroke-width="0.30" >Foxp3</text>
<text x="31.76" y="139.30" font-size="5.65" font-weight="bold" font-style="normal" textLength="3.47" lengthAdjust="spacingAndGlyphs" stroke="#000" stroke-width="0.45" >+</text>
<line x1="85.80" y1="159.20" x2="128.90" y2="159.20" stroke="#000" stroke-width="1.50"/>
<path d="M133.00,159.20 L128.40,156.50 L128.40,161.90 Z" fill="#000"/>
<line x1="253.80" y1="159.40" x2="297.70" y2="159.40" stroke="#000" stroke-width="1.50"/>
<path d="M301.80,159.40 L297.20,156.70 L297.20,162.10 Z" fill="#000"/>
<text x="89.68" y="176.00" font-size="11.03" font-weight="bold" font-style="normal" textLength="43.19" lengthAdjust="spacingAndGlyphs" stroke="#000" stroke-width="0.30" >DNAM-1</text>
<text x="265.69" y="176.00" font-size="10.85" font-weight="bold" font-style="normal" textLength="27.42" lengthAdjust="spacingAndGlyphs" stroke="#000" stroke-width="0.30" >TIGIT</text>
<rect x="156.6" y="162.9" width="75.2" height="22.4" fill="none" stroke="#333" stroke-width="1"/>
<rect x="159.3" y="165.8" width="7.2" height="7.3" fill="#000"/>
<rect x="160.0" y="177.5" width="5.8" height="5.2" fill="#fff" stroke="#8a8a8a" stroke-width="1.4"/>
<text x="169.30" y="172.70" font-size="7.69" font-weight="normal" font-style="normal" textLength="58.15" lengthAdjust="spacingAndGlyphs" stroke="#000" stroke-width="0.15" >DNAM-1 or TIGIT</text>
<text x="169.22" y="183.00" font-size="7.76" font-weight="normal" font-style="normal" textLength="49.40" lengthAdjust="spacingAndGlyphs" stroke="#000" stroke-width="0.15" >Isotype control</text>
<text x="0.25" y="199.50" font-size="11.77" font-weight="bold" font-style="normal" textLength="8.29" lengthAdjust="spacingAndGlyphs" stroke="#000" stroke-width="0.45" >B</text>
<rect x="2.30" y="205.70" width="143.10" height="34.70" fill="none" stroke="#333" stroke-width="1.1"/>
<line x1="5.4" y1="212.00" x2="16.6" y2="212.00" stroke="#000" stroke-width="1.4"/>
<circle cx="11.00" cy="212.00" r="2.80" fill="#000" stroke="#000" stroke-width="0.4"/>
<line x1="5.4" y1="223.30" x2="16.6" y2="223.30" stroke="#000" stroke-width="1.4"/>
<rect x="8.10" y="220.40" width="5.80" height="5.80" fill="#b8b8b8" stroke="#3a3a3a" stroke-width="0.9"/>
<line x1="5.4" y1="234.50" x2="16.6" y2="234.50" stroke="#000" stroke-width="1.4"/>
<circle cx="11.00" cy="234.50" r="2.55" fill="#fff" stroke="#000" stroke-width="1.0"/>
<text x="18.12" y="215.10" font-size="8.31" font-weight="normal" font-style="normal" textLength="55.75" lengthAdjust="spacingAndGlyphs" stroke="#000" stroke-width="0.15" >B6.WT + P210</text>
<line x1="77.10" y1="212.80" x2="81.80" y2="212.80" stroke="#000" stroke-width="1.10"/>
<path d="M84.50,212.80 L81.50,211.10 L81.50,214.50 Z" fill="#000"/>
<text x="86.91" y="215.10" font-size="8.33" font-weight="normal" font-style="normal" textLength="31.55" lengthAdjust="spacingAndGlyphs" stroke="#000" stroke-width="0.15" >B6C3F1</text>
<text x="18.11" y="226.50" font-size="8.28" font-weight="normal" font-style="normal" textLength="45.81" lengthAdjust="spacingAndGlyphs" stroke="#000" stroke-width="0.15" >B6.DNAM-1</text>
<text x="63.86" y="223.80" font-size="5.00" font-weight="normal" font-style="normal" textLength="4.97" lengthAdjust="spacingAndGlyphs" stroke="#000" stroke-width="0.15" >-/-</text>
<text x="71.77" y="226.50" font-size="8.31" font-weight="normal" font-style="normal" textLength="27.60" lengthAdjust="spacingAndGlyphs" stroke="#000" stroke-width="0.15" >+ P210</text>
<line x1="102.30" y1="224.20" x2="107.30" y2="224.20" stroke="#000" stroke-width="1.10"/>
<path d="M110.00,224.20 L107.00,222.50 L107.00,225.90 Z" fill="#000"/>
<text x="111.83" y="226.50" font-size="8.17" font-weight="normal" font-style="normal" textLength="30.93" lengthAdjust="spacingAndGlyphs" stroke="#000" stroke-width="0.15" >B6C3F1</text>
<text x="18.12" y="237.30" font-size="8.42" font-weight="normal" font-style="normal" textLength="61.01" lengthAdjust="spacingAndGlyphs" stroke="#000" stroke-width="0.15" >B6C3F1 + P210</text>
<line x1="82.20" y1="235.00" x2="87.20" y2="235.00" stroke="#000" stroke-width="1.10"/>
<path d="M89.90,235.00 L86.90,233.30 L86.90,236.70 Z" fill="#000"/>
<text x="92.32" y="237.30" font-size="8.38" font-weight="normal" font-style="normal" textLength="31.13" lengthAdjust="spacingAndGlyphs" stroke="#000" stroke-width="0.15" >B6C3F1</text>
<rect x="2.20" y="352.60" width="144.30" height="39.40" fill="none" stroke="#333" stroke-width="1.1"/>
<line x1="5.4" y1="360.70" x2="16.6" y2="360.70" stroke="#000" stroke-width="1.4"/>
<circle cx="11.00" cy="360.70" r="2.80" fill="#000" stroke="#000" stroke-width="0.4"/>
<line x1="5.4" y1="372.40" x2="16.6" y2="372.40" stroke="#000" stroke-width="1.4"/>
<rect x="8.10" y="369.50" width="5.80" height="5.80" fill="#b8b8b8" stroke="#3a3a3a" stroke-width="0.9"/>
<line x1="5.4" y1="383.70" x2="16.6" y2="383.70" stroke="#000" stroke-width="1.4"/>
<circle cx="11.00" cy="383.70" r="2.55" fill="#fff" stroke="#000" stroke-width="1.0"/>
<text x="18.12" y="363.40" font-size="8.26" font-weight="normal" font-style="normal" textLength="55.75" lengthAdjust="spacingAndGlyphs" stroke="#000" stroke-width="0.15" >B6.WT + P815</text>
<line x1="76.90" y1="361.10" x2="81.60" y2="361.10" stroke="#000" stroke-width="1.10"/>
<path d="M84.30,361.10 L81.30,359.40 L81.30,362.80 Z" fill="#000"/>
<text x="86.91" y="363.40" font-size="8.29" font-weight="normal" font-style="normal" textLength="31.55" lengthAdjust="spacingAndGlyphs" stroke="#000" stroke-width="0.15" >B6D2F1</text>
<text x="18.11" y="375.60" font-size="8.33" font-weight="normal" font-style="normal" textLength="45.81" lengthAdjust="spacingAndGlyphs" stroke="#000" stroke-width="0.15" >B6.DNAM-1</text>
<text x="63.86" y="372.80" font-size="5.00" font-weight="normal" font-style="normal" textLength="4.97" lengthAdjust="spacingAndGlyphs" stroke="#000" stroke-width="0.15" >-/-</text>
<text x="71.77" y="375.60" font-size="8.36" font-weight="normal" font-style="normal" textLength="27.60" lengthAdjust="spacingAndGlyphs" stroke="#000" stroke-width="0.15" >+ P815</text>
<line x1="102.10" y1="373.30" x2="107.20" y2="373.30" stroke="#000" stroke-width="1.10"/>
<path d="M109.90,373.30 L106.90,371.60 L106.90,375.00 Z" fill="#000"/>
<text x="111.82" y="375.60" font-size="8.27" font-weight="normal" font-style="normal" textLength="31.24" lengthAdjust="spacingAndGlyphs" stroke="#000" stroke-width="0.15" >B6D2F1</text>
<text x="18.12" y="386.70" font-size="8.46" font-weight="normal" font-style="normal" textLength="61.01" lengthAdjust="spacingAndGlyphs" stroke="#000" stroke-width="0.15" >B6D2F1 + P815</text>
<line x1="82.20" y1="384.40" x2="87.20" y2="384.40" stroke="#000" stroke-width="1.10"/>
<path d="M89.90,384.40 L86.90,382.70 L86.90,386.10 Z" fill="#000"/>
<text x="92.32" y="386.70" font-size="8.43" font-weight="normal" font-style="normal" textLength="31.13" lengthAdjust="spacingAndGlyphs" stroke="#000" stroke-width="0.15" >B6D2F1</text>
<path d="M17.20,318.50 C17.40,318.42 17.47,318.45 18.40,318.00 C19.33,317.55 21.33,316.90 22.80,315.80 C24.27,314.70 26.10,312.85 27.20,311.40 C28.30,309.95 28.80,308.80 29.40,307.10 C30.00,305.40 30.43,303.40 30.80,301.20 C31.17,299.00 31.35,296.35 31.60,293.90 C31.85,291.45 32.07,288.95 32.30,286.50 C32.53,284.05 32.75,281.88 33.00,279.20 C33.25,276.52 33.60,273.08 33.80,270.40 C34.00,267.72 34.02,264.92 34.20,263.10 C34.38,261.28 34.60,260.35 34.90,259.50 C35.20,258.65 35.65,258.00 36.00,258.00 C36.35,258.00 36.68,258.65 37.00,259.50 C37.32,260.35 37.63,261.28 37.90,263.10 C38.17,264.92 38.37,267.95 38.60,270.40 C38.83,272.85 39.00,275.35 39.30,277.80 C39.60,280.25 40.03,282.67 40.40,285.10 C40.77,287.53 41.12,289.97 41.50,292.40 C41.88,294.83 42.28,297.25 42.70,299.70 C43.12,302.15 43.53,305.02 44.00,307.10 C44.47,309.18 44.88,310.75 45.50,312.20 C46.12,313.65 46.85,314.88 47.70,315.80 C48.55,316.72 49.72,317.25 50.60,317.70 C51.48,318.15 52.60,318.37 53.00,318.50 L53.00,318.50 L17.20,318.50 Z" fill="#000"/>
<path d="M17.20,311.50 C17.77,309.53 19.42,304.10 20.60,299.70 C21.78,295.30 23.20,289.25 24.30,285.10 C25.40,280.95 26.35,277.98 27.20,274.80 C28.05,271.62 28.80,269.17 29.40,266.00 C30.00,262.83 30.43,257.87 30.80,255.80 C31.17,253.73 31.30,253.32 31.60,253.60 C31.90,253.88 32.33,254.77 32.60,257.50 C32.87,260.23 33.00,265.65 33.20,270.00 C33.40,274.35 33.47,278.15 33.80,283.60 C34.13,289.05 34.60,297.57 35.20,302.70 C35.80,307.83 36.30,311.97 37.40,314.40 C38.50,316.83 40.33,316.67 41.80,317.30 C43.27,317.93 45.47,318.05 46.20,318.20" fill="none" stroke="#a2a2a2" stroke-width="1.35"/>
<rect x="16.60" y="249.60" width="68.20" height="68.90" fill="none" stroke="#777" stroke-width="1"/>
<text x="56.60" y="263.10" font-size="9.97" font-weight="normal" font-style="normal" textLength="23.41" lengthAdjust="spacingAndGlyphs" stroke="#000" stroke-width="0.12" >P210</text>
<path d="M34.20,262.00 C34.37,260.92 34.90,256.87 35.20,255.50 C35.50,254.13 35.73,253.80 36.00,253.80 C36.27,253.80 36.53,254.30 36.80,255.50 C37.07,256.70 37.47,260.08 37.60,261.00" fill="none" stroke="#9a9a9a" stroke-width="1"/>
<path d="M17.70,467.00 C17.77,466.73 17.73,466.17 18.10,465.40 C18.47,464.63 19.25,464.35 19.90,462.40 C20.55,460.45 21.27,457.10 22.00,453.70 C22.73,450.30 23.55,446.40 24.30,442.00 C25.05,437.60 25.90,432.20 26.50,427.30 C27.10,422.40 27.42,416.27 27.90,412.60 C28.38,408.93 28.92,405.78 29.40,405.30 C29.88,404.82 30.32,406.03 30.80,409.70 C31.28,413.37 31.80,420.95 32.30,427.30 C32.80,433.65 33.32,442.18 33.80,447.80 C34.28,453.42 34.60,457.58 35.20,461.00 C35.80,464.42 36.77,466.83 37.40,468.30 C38.03,469.77 38.73,469.55 39.00,469.80 L39.00,470.20 L17.70,470.20 Z" fill="#000"/>
<path d="M17.70,466.00 C18.08,465.17 19.20,463.33 20.00,461.00 C20.80,458.67 21.73,455.50 22.50,452.00 C23.27,448.50 23.88,444.50 24.60,440.00 C25.32,435.50 26.20,430.00 26.80,425.00 C27.40,420.00 27.72,413.25 28.20,410.00 C28.68,406.75 29.13,405.30 29.70,405.50 C30.27,405.70 31.09,407.57 31.60,411.20 C32.11,414.83 32.27,420.95 32.75,427.30 C33.23,433.65 33.96,443.45 34.50,449.30 C35.04,455.15 35.27,459.23 36.00,462.40 C36.73,465.57 37.93,467.12 38.90,468.30 C39.87,469.48 40.78,469.25 41.80,469.50 C42.82,469.75 44.47,469.75 45.00,469.80" fill="none" stroke="#a2a2a2" stroke-width="1.35"/>
<rect x="17.60" y="401.20" width="68.80" height="69.00" fill="none" stroke="#777" stroke-width="1"/>
<text x="56.60" y="414.80" font-size="9.97" font-weight="normal" font-style="normal" textLength="23.41" lengthAdjust="spacingAndGlyphs" stroke="#000" stroke-width="0.12" >P815</text>
<line x1="17.50" y1="324.20" x2="60.50" y2="324.20" stroke="#000" stroke-width="1.50"/>
<path d="M64.60,324.20 L60.00,321.70 L60.00,326.70 Z" fill="#000"/>
<line x1="19.00" y1="475.40" x2="62.20" y2="475.40" stroke="#000" stroke-width="1.50"/>
<path d="M66.30,475.40 L61.70,472.90 L61.70,477.90 Z" fill="#000"/>
<text x="24.85" y="339.70" font-size="10.84" font-weight="normal" font-style="normal" textLength="34.12" lengthAdjust="spacingAndGlyphs" stroke="#000" stroke-width="0.15" >CD155</text>
<text x="26.57" y="491.90" font-size="10.70" font-weight="normal" font-style="normal" textLength="33.29" lengthAdjust="spacingAndGlyphs" stroke="#000" stroke-width="0.15" >CD155</text>
<rect x="87.30" y="298.70" width="64.70" height="23.50" fill="none" stroke="#333" stroke-width="1"/>
<rect x="90.00" y="301.40" width="7.40" height="6.70" fill="#000"/>
<rect x="90.60" y="312.80" width="5.60" height="4.80" fill="#fff" stroke="#8a8a8a" stroke-width="1.2"/>
<text x="100.14" y="307.80" font-size="7.24" font-weight="normal" font-style="normal" textLength="22.47" lengthAdjust="spacingAndGlyphs" stroke="#000" stroke-width="0.15" >CD155</text>
<text x="99.82" y="317.80" font-size="7.38" font-weight="normal" font-style="normal" textLength="49.30" lengthAdjust="spacingAndGlyphs" stroke="#000" stroke-width="0.15" >Isotype control</text>
<rect x="89.60" y="450.40" width="65.00" height="22.50" fill="none" stroke="#333" stroke-width="1"/>
<rect x="92.30" y="453.10" width="7.50" height="6.30" fill="#000"/>
<rect x="93.30" y="463.70" width="5.50" height="5.20" fill="#fff" stroke="#8a8a8a" stroke-width="1.2"/>
<text x="102.73" y="459.40" font-size="7.51" font-weight="normal" font-style="normal" textLength="23.30" lengthAdjust="spacingAndGlyphs" stroke="#000" stroke-width="0.15" >CD155</text>
<text x="102.42" y="469.50" font-size="7.51" font-weight="normal" font-style="normal" textLength="49.40" lengthAdjust="spacingAndGlyphs" stroke="#000" stroke-width="0.15" >Isotype control</text>
<path d="M202.60,200.30 L202.60,319.60 L336.00,319.60" fill="none" stroke="#000" stroke-width="1.5"/>
<line x1="200.20" y1="314.90" x2="202.60" y2="314.90" stroke="#000" stroke-width="1.2"/>
<text x="196.30" y="318.80" font-size="8.3" text-anchor="end" stroke="#000" stroke-width="0.15">0</text>
<line x1="200.20" y1="292.90" x2="202.60" y2="292.90" stroke="#000" stroke-width="1.2"/>
<text x="196.30" y="296.80" font-size="8.3" text-anchor="end" stroke="#000" stroke-width="0.15">20</text>
<line x1="200.20" y1="270.90" x2="202.60" y2="270.90" stroke="#000" stroke-width="1.2"/>
<text x="196.30" y="274.80" font-size="8.3" text-anchor="end" stroke="#000" stroke-width="0.15">40</text>
<line x1="200.20" y1="248.90" x2="202.60" y2="248.90" stroke="#000" stroke-width="1.2"/>
<text x="196.30" y="252.80" font-size="8.3" text-anchor="end" stroke="#000" stroke-width="0.15">60</text>
<line x1="200.20" y1="226.90" x2="202.60" y2="226.90" stroke="#000" stroke-width="1.2"/>
<text x="196.30" y="230.80" font-size="8.3" text-anchor="end" stroke="#000" stroke-width="0.15">80</text>
<line x1="200.20" y1="204.90" x2="202.60" y2="204.90" stroke="#000" stroke-width="1.2"/>
<text x="196.30" y="208.80" font-size="8.3" text-anchor="end" stroke="#000" stroke-width="0.15">100</text>
<line x1="207.30" y1="319.60" x2="207.30" y2="322.00" stroke="#000" stroke-width="1.2"/>
<text x="207.30" y="333.00" font-size="8.3" text-anchor="middle" stroke="#000" stroke-width="0.15">0</text>
<line x1="232.04" y1="319.60" x2="232.04" y2="322.00" stroke="#000" stroke-width="1.2"/>
<text x="232.04" y="333.00" font-size="8.3" text-anchor="middle" stroke="#000" stroke-width="0.15">20</text>
<line x1="256.78" y1="319.60" x2="256.78" y2="322.00" stroke="#000" stroke-width="1.2"/>
<text x="256.78" y="333.00" font-size="8.3" text-anchor="middle" stroke="#000" stroke-width="0.15">40</text>
<line x1="281.52" y1="319.60" x2="281.52" y2="322.00" stroke="#000" stroke-width="1.2"/>
<text x="281.52" y="333.00" font-size="8.3" text-anchor="middle" stroke="#000" stroke-width="0.15">60</text>
<line x1="306.26" y1="319.60" x2="306.26" y2="322.00" stroke="#000" stroke-width="1.2"/>
<text x="306.26" y="333.00" font-size="8.3" text-anchor="middle" stroke="#000" stroke-width="0.15">80</text>
<line x1="331.00" y1="319.60" x2="331.00" y2="322.00" stroke="#000" stroke-width="1.2"/>
<text x="331.00" y="333.00" font-size="8.3" text-anchor="middle" stroke="#000" stroke-width="0.15">100</text>
<text x="236.94" y="345.80" font-size="9.51" font-weight="normal" font-style="normal" textLength="65.26" lengthAdjust="spacingAndGlyphs" stroke="#000" stroke-width="0.15" >Days post BMT</text>
<text transform="translate(176.95,299.43) rotate(-90)" x="0" y="0" font-size="9.30" font-weight="normal" textLength="81.72" lengthAdjust="spacingAndGlyphs" stroke="#000" stroke-width="0.15">Leukemia death (%)</text>
<path d="M207.00,314.80 L223.10,314.80 L223.40,304.70 L226.00,304.70 L226.00,294.80 L229.90,294.80 L229.90,284.70 L231.30,284.70 L231.30,274.20 L232.50,274.20 L232.50,244.70 L236.80,244.70 L236.80,234.00 L239.00,234.00 L239.00,224.20 L241.60,224.20 L241.60,214.10 L283.75,214.10 L283.75,205.60" fill="none" stroke="#000" stroke-width="1.60" stroke-linejoin="miter"/>
<path d="M207.00,314.80 L238.30,314.80 L238.60,309.40 L240.00,300.00 L244.00,294.50 L245.30,289.00 L247.70,283.60 L249.70,278.00 L250.30,262.50 L259.00,262.50 L259.00,257.00 L267.70,257.00 L267.70,246.60 L292.80,246.60 L292.80,241.40 L331.00,241.40" fill="none" stroke="#000" stroke-width="1.60" stroke-linejoin="miter"/>
<path d="M232.00,314.90 L233.60,310.20 L234.70,305.30 L235.20,300.00 L237.40,295.10 L237.40,289.70 L250.80,284.90 L250.30,279.50 L267.50,279.50 L267.50,274.20 L276.00,274.20 L276.00,270.00 L278.40,270.00 L278.60,264.60 L283.75,264.60 L285.80,259.40 L286.60,254.40 L293.60,254.40 L293.60,249.70 L331.00,249.70" fill="none" stroke="#000" stroke-width="1.60" stroke-linejoin="miter"/>
<rect x="204.35" y="312.15" width="5.30" height="5.30" fill="#b8b8b8" stroke="#3a3a3a" stroke-width="0.9"/>
<rect x="235.65" y="312.15" width="5.30" height="5.30" fill="#b8b8b8" stroke="#3a3a3a" stroke-width="0.9"/>
<rect x="236.35" y="306.75" width="5.30" height="5.30" fill="#b8b8b8" stroke="#3a3a3a" stroke-width="0.9"/>
<rect x="236.85" y="301.85" width="5.30" height="5.30" fill="#b8b8b8" stroke="#3a3a3a" stroke-width="0.9"/>
<rect x="240.35" y="297.35" width="5.30" height="5.30" fill="#b8b8b8" stroke="#3a3a3a" stroke-width="0.9"/>
<rect x="241.10" y="291.85" width="5.30" height="5.30" fill="#b8b8b8" stroke="#3a3a3a" stroke-width="0.9"/>
<rect x="242.65" y="286.35" width="5.30" height="5.30" fill="#b8b8b8" stroke="#3a3a3a" stroke-width="0.9"/>
<rect x="245.05" y="280.95" width="5.30" height="5.30" fill="#b8b8b8" stroke="#3a3a3a" stroke-width="0.9"/>
<rect x="247.05" y="275.35" width="5.30" height="5.30" fill="#b8b8b8" stroke="#3a3a3a" stroke-width="0.9"/>
<rect x="247.05" y="270.35" width="5.30" height="5.30" fill="#b8b8b8" stroke="#3a3a3a" stroke-width="0.9"/>
<rect x="247.65" y="259.85" width="5.30" height="5.30" fill="#b8b8b8" stroke="#3a3a3a" stroke-width="0.9"/>
<rect x="256.35" y="259.85" width="5.30" height="5.30" fill="#b8b8b8" stroke="#3a3a3a" stroke-width="0.9"/>
<rect x="256.35" y="254.35" width="5.30" height="5.30" fill="#b8b8b8" stroke="#3a3a3a" stroke-width="0.9"/>
<rect x="265.05" y="254.35" width="5.30" height="5.30" fill="#b8b8b8" stroke="#3a3a3a" stroke-width="0.9"/>
<rect x="265.05" y="243.95" width="5.30" height="5.30" fill="#b8b8b8" stroke="#3a3a3a" stroke-width="0.9"/>
<rect x="290.15" y="243.95" width="5.30" height="5.30" fill="#b8b8b8" stroke="#3a3a3a" stroke-width="0.9"/>
<rect x="290.15" y="238.75" width="5.30" height="5.30" fill="#b8b8b8" stroke="#3a3a3a" stroke-width="0.9"/>
<rect x="328.35" y="238.75" width="5.30" height="5.30" fill="#b8b8b8" stroke="#3a3a3a" stroke-width="0.9"/>
<circle cx="232.00" cy="314.90" r="2.50" fill="#000" stroke="#000" stroke-width="0.4"/>
<circle cx="233.60" cy="310.20" r="2.50" fill="#000" stroke="#000" stroke-width="0.4"/>
<circle cx="234.70" cy="305.30" r="2.50" fill="#000" stroke="#000" stroke-width="0.4"/>
<circle cx="235.20" cy="300.00" r="2.50" fill="#000" stroke="#000" stroke-width="0.4"/>
<circle cx="237.40" cy="295.10" r="2.50" fill="#000" stroke="#000" stroke-width="0.4"/>
<circle cx="237.40" cy="289.70" r="2.50" fill="#000" stroke="#000" stroke-width="0.4"/>
<circle cx="250.80" cy="284.90" r="2.50" fill="#000" stroke="#000" stroke-width="0.4"/>
<circle cx="250.30" cy="279.50" r="2.50" fill="#000" stroke="#000" stroke-width="0.4"/>
<circle cx="267.50" cy="279.50" r="2.50" fill="#000" stroke="#000" stroke-width="0.4"/>
<circle cx="267.50" cy="274.20" r="2.50" fill="#000" stroke="#000" stroke-width="0.4"/>
<circle cx="276.00" cy="274.20" r="2.50" fill="#000" stroke="#000" stroke-width="0.4"/>
<circle cx="275.60" cy="270.00" r="2.50" fill="#000" stroke="#000" stroke-width="0.4"/>
<circle cx="278.40" cy="270.00" r="2.50" fill="#000" stroke="#000" stroke-width="0.4"/>
<circle cx="278.75" cy="264.60" r="2.50" fill="#000" stroke="#000" stroke-width="0.4"/>
<circle cx="283.75" cy="264.60" r="2.50" fill="#000" stroke="#000" stroke-width="0.4"/>
<circle cx="285.80" cy="259.40" r="2.50" fill="#000" stroke="#000" stroke-width="0.4"/>
<circle cx="286.60" cy="254.40" r="2.50" fill="#000" stroke="#000" stroke-width="0.4"/>
<circle cx="293.60" cy="254.40" r="2.50" fill="#000" stroke="#000" stroke-width="0.4"/>
<circle cx="293.60" cy="249.70" r="2.50" fill="#000" stroke="#000" stroke-width="0.4"/>
<circle cx="331.00" cy="249.70" r="2.50" fill="#000" stroke="#000" stroke-width="0.4"/>
<circle cx="207.00" cy="314.80" r="2.25" fill="#fff" stroke="#000" stroke-width="1.0"/>
<circle cx="223.10" cy="314.80" r="2.25" fill="#fff" stroke="#000" stroke-width="1.0"/>
<circle cx="223.40" cy="304.70" r="2.25" fill="#fff" stroke="#000" stroke-width="1.0"/>
<circle cx="226.20" cy="304.70" r="2.25" fill="#fff" stroke="#000" stroke-width="1.0"/>
<circle cx="226.00" cy="294.80" r="2.25" fill="#fff" stroke="#000" stroke-width="1.0"/>
<circle cx="229.70" cy="294.80" r="2.25" fill="#fff" stroke="#000" stroke-width="1.0"/>
<circle cx="230.20" cy="284.70" r="2.25" fill="#fff" stroke="#000" stroke-width="1.0"/>
<circle cx="231.30" cy="274.20" r="2.25" fill="#fff" stroke="#000" stroke-width="1.0"/>
<circle cx="232.50" cy="255.00" r="2.25" fill="#fff" stroke="#000" stroke-width="1.0"/>
<circle cx="232.50" cy="244.70" r="2.25" fill="#fff" stroke="#000" stroke-width="1.0"/>
<circle cx="237.00" cy="244.70" r="2.25" fill="#fff" stroke="#000" stroke-width="1.0"/>
<circle cx="236.40" cy="234.00" r="2.25" fill="#fff" stroke="#000" stroke-width="1.0"/>
<circle cx="239.50" cy="234.00" r="2.25" fill="#fff" stroke="#000" stroke-width="1.0"/>
<circle cx="238.30" cy="224.20" r="2.25" fill="#fff" stroke="#000" stroke-width="1.0"/>
<circle cx="242.50" cy="224.20" r="2.25" fill="#fff" stroke="#000" stroke-width="1.0"/>
<circle cx="241.40" cy="214.10" r="2.25" fill="#fff" stroke="#000" stroke-width="1.0"/>
<circle cx="283.75" cy="214.10" r="2.25" fill="#fff" stroke="#000" stroke-width="1.0"/>
<circle cx="283.75" cy="205.60" r="2.25" fill="#fff" stroke="#000" stroke-width="1.0"/>
<text x="292.27" y="281.90" font-size="8.33" font-weight="normal" font-style="italic" textLength="5.08" lengthAdjust="spacingAndGlyphs" stroke="#000" stroke-width="0.15" >P</text>
<text x="300.82" y="281.90" font-size="9.69" font-weight="normal" font-style="normal" textLength="27.00" lengthAdjust="spacingAndGlyphs" stroke="#000" stroke-width="0.15" >= 0.94</text>
<path d="M384.30,200.30 L384.30,320.00 L517.40,320.00" fill="none" stroke="#000" stroke-width="1.5"/>
<line x1="381.90" y1="315.60" x2="384.30" y2="315.60" stroke="#000" stroke-width="1.2"/>
<text x="378.20" y="319.50" font-size="8.3" text-anchor="end" stroke="#000" stroke-width="0.15">0</text>
<line x1="381.90" y1="293.58" x2="384.30" y2="293.58" stroke="#000" stroke-width="1.2"/>
<text x="378.20" y="297.48" font-size="8.3" text-anchor="end" stroke="#000" stroke-width="0.15">20</text>
<line x1="381.90" y1="271.56" x2="384.30" y2="271.56" stroke="#000" stroke-width="1.2"/>
<text x="378.20" y="275.46" font-size="8.3" text-anchor="end" stroke="#000" stroke-width="0.15">40</text>
<line x1="381.90" y1="249.54" x2="384.30" y2="249.54" stroke="#000" stroke-width="1.2"/>
<text x="378.20" y="253.44" font-size="8.3" text-anchor="end" stroke="#000" stroke-width="0.15">60</text>
<line x1="381.90" y1="227.52" x2="384.30" y2="227.52" stroke="#000" stroke-width="1.2"/>
<text x="378.20" y="231.42" font-size="8.3" text-anchor="end" stroke="#000" stroke-width="0.15">80</text>
<line x1="381.90" y1="205.50" x2="384.30" y2="205.50" stroke="#000" stroke-width="1.2"/>
<text x="378.20" y="209.40" font-size="8.3" text-anchor="end" stroke="#000" stroke-width="0.15">100</text>
<line x1="388.50" y1="320.00" x2="388.50" y2="322.40" stroke="#000" stroke-width="1.2"/>
<text x="388.50" y="334.30" font-size="8.3" text-anchor="middle" stroke="#000" stroke-width="0.15">0</text>
<line x1="413.24" y1="320.00" x2="413.24" y2="322.40" stroke="#000" stroke-width="1.2"/>
<text x="413.24" y="334.30" font-size="8.3" text-anchor="middle" stroke="#000" stroke-width="0.15">20</text>
<line x1="437.98" y1="320.00" x2="437.98" y2="322.40" stroke="#000" stroke-width="1.2"/>
<text x="437.98" y="334.30" font-size="8.3" text-anchor="middle" stroke="#000" stroke-width="0.15">40</text>
<line x1="462.72" y1="320.00" x2="462.72" y2="322.40" stroke="#000" stroke-width="1.2"/>
<text x="462.72" y="334.30" font-size="8.3" text-anchor="middle" stroke="#000" stroke-width="0.15">60</text>
<line x1="487.46" y1="320.00" x2="487.46" y2="322.40" stroke="#000" stroke-width="1.2"/>
<text x="487.46" y="334.30" font-size="8.3" text-anchor="middle" stroke="#000" stroke-width="0.15">80</text>
<line x1="512.20" y1="320.00" x2="512.20" y2="322.40" stroke="#000" stroke-width="1.2"/>
<text x="512.20" y="334.30" font-size="8.3" text-anchor="middle" stroke="#000" stroke-width="0.15">100</text>
<text x="420.44" y="346.80" font-size="9.48" font-weight="normal" font-style="normal" textLength="65.36" lengthAdjust="spacingAndGlyphs" stroke="#000" stroke-width="0.15" >Days post BMT</text>
<text transform="translate(359.50,297.10) rotate(-90)" x="0" y="0" font-size="9.52" font-weight="normal" textLength="74.42" lengthAdjust="spacingAndGlyphs" stroke="#000" stroke-width="0.15">GVHD death (%)</text>
<path d="M389.00,315.60 L464.00,315.60" fill="none" stroke="#000" stroke-width="1.50" stroke-linejoin="miter"/>
<path d="M398.80,315.60 L398.80,310.60 L423.30,310.60 L423.30,305.20 L427.90,305.20 L427.90,300.80 L431.90,300.80 L431.90,295.20 L512.30,295.20" fill="none" stroke="#000" stroke-width="1.40" stroke-linejoin="miter"/>
<path d="M389.00,315.80 L432.50,315.80 L433.00,310.60 L433.00,305.20 L440.60,305.20 L440.60,295.40 L512.30,295.40" fill="none" stroke="#000" stroke-width="1.40" stroke-linejoin="miter"/>
<path d="M398.80,315.60 L432.50,315.60" fill="none" stroke="#000" stroke-width="2.40" stroke-linejoin="miter"/>
<path d="M440.60,295.20 L512.30,295.20" fill="none" stroke="#000" stroke-width="2.60" stroke-linejoin="miter"/>
<rect x="386.35" y="312.95" width="5.30" height="5.30" fill="#b8b8b8" stroke="#3a3a3a" stroke-width="0.9"/>
<rect x="429.85" y="313.35" width="5.30" height="5.30" fill="#b8b8b8" stroke="#3a3a3a" stroke-width="0.9"/>
<rect x="430.35" y="307.95" width="5.30" height="5.30" fill="#b8b8b8" stroke="#3a3a3a" stroke-width="0.9"/>
<rect x="430.35" y="302.55" width="5.30" height="5.30" fill="#b8b8b8" stroke="#3a3a3a" stroke-width="0.9"/>
<rect x="437.95" y="302.15" width="5.30" height="5.30" fill="#b8b8b8" stroke="#3a3a3a" stroke-width="0.9"/>
<rect x="437.95" y="292.35" width="5.30" height="5.30" fill="#b8b8b8" stroke="#3a3a3a" stroke-width="0.9"/>
<circle cx="398.80" cy="315.60" r="2.50" fill="#000" stroke="#000" stroke-width="0.4"/>
<circle cx="398.80" cy="310.20" r="2.50" fill="#000" stroke="#000" stroke-width="0.4"/>
<circle cx="423.30" cy="310.60" r="2.50" fill="#000" stroke="#000" stroke-width="0.4"/>
<circle cx="423.30" cy="305.20" r="2.50" fill="#000" stroke="#000" stroke-width="0.4"/>
<circle cx="427.90" cy="305.20" r="2.50" fill="#000" stroke="#000" stroke-width="0.4"/>
<circle cx="427.90" cy="300.80" r="2.50" fill="#000" stroke="#000" stroke-width="0.4"/>
<circle cx="431.90" cy="300.80" r="2.50" fill="#000" stroke="#000" stroke-width="0.4"/>
<circle cx="431.90" cy="295.20" r="2.50" fill="#000" stroke="#000" stroke-width="0.4"/>
<circle cx="512.30" cy="295.30" r="2.50" fill="#000" stroke="#000" stroke-width="0.4"/>
<circle cx="389.00" cy="315.60" r="2.25" fill="#fff" stroke="#000" stroke-width="1.0"/>
<circle cx="464.10" cy="315.20" r="2.25" fill="#fff" stroke="#000" stroke-width="1.0"/>
<text x="484.30" y="313.00" font-size="9.67" font-weight="normal" font-style="italic" textLength="6.56" lengthAdjust="spacingAndGlyphs" stroke="#000" stroke-width="0.15" >P</text>
<text x="493.73" y="313.00" font-size="9.40" font-weight="normal" font-style="normal" stroke="#000" stroke-width="0.15">= 0.57</text>
<path d="M202.50,363.75 L202.50,483.10 L336.00,483.10" fill="none" stroke="#000" stroke-width="1.5"/>
<line x1="200.10" y1="478.40" x2="202.50" y2="478.40" stroke="#000" stroke-width="1.2"/>
<text x="196.50" y="482.30" font-size="8.3" text-anchor="end" stroke="#000" stroke-width="0.15">0</text>
<line x1="200.10" y1="456.40" x2="202.50" y2="456.40" stroke="#000" stroke-width="1.2"/>
<text x="196.50" y="460.30" font-size="8.3" text-anchor="end" stroke="#000" stroke-width="0.15">20</text>
<line x1="200.10" y1="434.40" x2="202.50" y2="434.40" stroke="#000" stroke-width="1.2"/>
<text x="196.50" y="438.30" font-size="8.3" text-anchor="end" stroke="#000" stroke-width="0.15">40</text>
<line x1="200.10" y1="412.40" x2="202.50" y2="412.40" stroke="#000" stroke-width="1.2"/>
<text x="196.50" y="416.30" font-size="8.3" text-anchor="end" stroke="#000" stroke-width="0.15">60</text>
<line x1="200.10" y1="390.40" x2="202.50" y2="390.40" stroke="#000" stroke-width="1.2"/>
<text x="196.50" y="394.30" font-size="8.3" text-anchor="end" stroke="#000" stroke-width="0.15">80</text>
<line x1="200.10" y1="368.40" x2="202.50" y2="368.40" stroke="#000" stroke-width="1.2"/>
<text x="196.50" y="372.30" font-size="8.3" text-anchor="end" stroke="#000" stroke-width="0.15">100</text>
<line x1="207.50" y1="483.10" x2="207.50" y2="485.50" stroke="#000" stroke-width="1.2"/>
<text x="207.50" y="497.50" font-size="8.3" text-anchor="middle" stroke="#000" stroke-width="0.15">0</text>
<line x1="225.10" y1="483.10" x2="225.10" y2="485.50" stroke="#000" stroke-width="1.2"/>
<text x="225.10" y="497.50" font-size="8.3" text-anchor="middle" stroke="#000" stroke-width="0.15">10</text>
<line x1="242.70" y1="483.10" x2="242.70" y2="485.50" stroke="#000" stroke-width="1.2"/>
<text x="242.70" y="497.50" font-size="8.3" text-anchor="middle" stroke="#000" stroke-width="0.15">20</text>
<line x1="260.30" y1="483.10" x2="260.30" y2="485.50" stroke="#000" stroke-width="1.2"/>
<text x="260.30" y="497.50" font-size="8.3" text-anchor="middle" stroke="#000" stroke-width="0.15">30</text>
<line x1="277.90" y1="483.10" x2="277.90" y2="485.50" stroke="#000" stroke-width="1.2"/>
<text x="277.90" y="497.50" font-size="8.3" text-anchor="middle" stroke="#000" stroke-width="0.15">40</text>
<line x1="295.50" y1="483.10" x2="295.50" y2="485.50" stroke="#000" stroke-width="1.2"/>
<text x="295.50" y="497.50" font-size="8.3" text-anchor="middle" stroke="#000" stroke-width="0.15">50</text>
<line x1="313.10" y1="483.10" x2="313.10" y2="485.50" stroke="#000" stroke-width="1.2"/>
<text x="313.10" y="497.50" font-size="8.3" text-anchor="middle" stroke="#000" stroke-width="0.15">60</text>
<line x1="330.70" y1="483.10" x2="330.70" y2="485.50" stroke="#000" stroke-width="1.2"/>
<text x="330.70" y="497.50" font-size="8.3" text-anchor="middle" stroke="#000" stroke-width="0.15">70</text>
<text x="235.02" y="509.60" font-size="9.60" font-weight="normal" font-style="normal" textLength="66.98" lengthAdjust="spacingAndGlyphs" stroke="#000" stroke-width="0.15" >Days post BMT</text>
<text transform="translate(176.95,466.17) rotate(-90)" x="0" y="0" font-size="9.30" font-weight="normal" textLength="86.09" lengthAdjust="spacingAndGlyphs" stroke="#000" stroke-width="0.15">Leukemia death (%)</text>
<path d="M207.50,478.40 L231.60,478.40 L231.60,464.80 L233.50,464.80 L233.50,423.30 L236.60,423.30 L236.60,409.80 L242.00,409.80 L242.00,368.80" fill="none" stroke="#000" stroke-width="1.60" stroke-linejoin="miter"/>
<path d="M207.50,478.40 L246.60,478.60 L246.60,471.00 L251.25,471.00 L252.00,464.70 L252.80,457.70 L255.50,457.70 L255.50,437.30 L258.30,430.30 L257.50,423.30 L262.20,423.30 L263.00,416.25 L264.00,409.80 L267.50,409.80 L268.00,402.80 L269.00,395.70 L295.30,395.80 L295.30,386.25 L325.40,386.25 L325.40,377.10 L330.20,377.10" fill="none" stroke="#000" stroke-width="1.60" stroke-linejoin="miter"/>
<path d="M237.20,478.30 L237.20,471.70 L242.70,471.70 L243.40,457.70 L247.30,451.40 L248.90,444.40 L250.50,437.30 L251.25,430.30 L275.50,430.30 L277.80,423.30 L278.60,417.00 L278.90,416.30 L314.40,416.30 L314.40,410.00" fill="none" stroke="#000" stroke-width="1.60" stroke-linejoin="miter"/>
<rect x="204.85" y="475.75" width="5.30" height="5.30" fill="#b8b8b8" stroke="#3a3a3a" stroke-width="0.9"/>
<rect x="243.95" y="476.10" width="5.30" height="5.30" fill="#b8b8b8" stroke="#3a3a3a" stroke-width="0.9"/>
<rect x="243.95" y="468.35" width="5.30" height="5.30" fill="#b8b8b8" stroke="#3a3a3a" stroke-width="0.9"/>
<rect x="248.60" y="468.35" width="5.30" height="5.30" fill="#b8b8b8" stroke="#3a3a3a" stroke-width="0.9"/>
<rect x="249.35" y="462.05" width="5.30" height="5.30" fill="#b8b8b8" stroke="#3a3a3a" stroke-width="0.9"/>
<rect x="250.15" y="455.05" width="5.30" height="5.30" fill="#b8b8b8" stroke="#3a3a3a" stroke-width="0.9"/>
<rect x="253.35" y="434.65" width="5.30" height="5.30" fill="#b8b8b8" stroke="#3a3a3a" stroke-width="0.9"/>
<rect x="255.65" y="427.65" width="5.30" height="5.30" fill="#b8b8b8" stroke="#3a3a3a" stroke-width="0.9"/>
<rect x="254.85" y="420.65" width="5.30" height="5.30" fill="#b8b8b8" stroke="#3a3a3a" stroke-width="0.9"/>
<rect x="259.55" y="420.65" width="5.30" height="5.30" fill="#b8b8b8" stroke="#3a3a3a" stroke-width="0.9"/>
<rect x="260.35" y="413.60" width="5.30" height="5.30" fill="#b8b8b8" stroke="#3a3a3a" stroke-width="0.9"/>
<rect x="261.35" y="407.15" width="5.30" height="5.30" fill="#b8b8b8" stroke="#3a3a3a" stroke-width="0.9"/>
<rect x="264.85" y="407.15" width="5.30" height="5.30" fill="#b8b8b8" stroke="#3a3a3a" stroke-width="0.9"/>
<rect x="265.35" y="400.15" width="5.30" height="5.30" fill="#b8b8b8" stroke="#3a3a3a" stroke-width="0.9"/>
<rect x="266.35" y="393.05" width="5.30" height="5.30" fill="#b8b8b8" stroke="#3a3a3a" stroke-width="0.9"/>
<rect x="292.65" y="393.15" width="5.30" height="5.30" fill="#b8b8b8" stroke="#3a3a3a" stroke-width="0.9"/>
<rect x="292.65" y="383.60" width="5.30" height="5.30" fill="#b8b8b8" stroke="#3a3a3a" stroke-width="0.9"/>
<rect x="322.75" y="383.60" width="5.30" height="5.30" fill="#b8b8b8" stroke="#3a3a3a" stroke-width="0.9"/>
<rect x="322.75" y="374.45" width="5.30" height="5.30" fill="#b8b8b8" stroke="#3a3a3a" stroke-width="0.9"/>
<rect x="327.55" y="374.45" width="5.30" height="5.30" fill="#b8b8b8" stroke="#3a3a3a" stroke-width="0.9"/>
<circle cx="237.20" cy="478.30" r="2.50" fill="#000" stroke="#000" stroke-width="0.4"/>
<circle cx="237.20" cy="471.70" r="2.50" fill="#000" stroke="#000" stroke-width="0.4"/>
<circle cx="242.70" cy="471.70" r="2.50" fill="#000" stroke="#000" stroke-width="0.4"/>
<circle cx="243.40" cy="457.70" r="2.50" fill="#000" stroke="#000" stroke-width="0.4"/>
<circle cx="241.50" cy="457.70" r="2.50" fill="#000" stroke="#000" stroke-width="0.4"/>
<circle cx="247.30" cy="451.40" r="2.50" fill="#000" stroke="#000" stroke-width="0.4"/>
<circle cx="245.50" cy="451.40" r="2.50" fill="#000" stroke="#000" stroke-width="0.4"/>
<circle cx="248.90" cy="444.40" r="2.50" fill="#000" stroke="#000" stroke-width="0.4"/>
<circle cx="250.50" cy="437.30" r="2.50" fill="#000" stroke="#000" stroke-width="0.4"/>
<circle cx="248.50" cy="437.30" r="2.50" fill="#000" stroke="#000" stroke-width="0.4"/>
<circle cx="251.25" cy="430.30" r="2.50" fill="#000" stroke="#000" stroke-width="0.4"/>
<circle cx="275.50" cy="430.30" r="2.50" fill="#000" stroke="#000" stroke-width="0.4"/>
<circle cx="277.80" cy="423.30" r="2.50" fill="#000" stroke="#000" stroke-width="0.4"/>
<circle cx="275.50" cy="423.30" r="2.50" fill="#000" stroke="#000" stroke-width="0.4"/>
<circle cx="278.60" cy="417.00" r="2.50" fill="#000" stroke="#000" stroke-width="0.4"/>
<circle cx="314.40" cy="416.30" r="2.50" fill="#000" stroke="#000" stroke-width="0.4"/>
<circle cx="314.40" cy="410.00" r="2.50" fill="#000" stroke="#000" stroke-width="0.4"/>
<circle cx="207.50" cy="478.40" r="2.25" fill="#fff" stroke="#000" stroke-width="1.0"/>
<circle cx="231.60" cy="478.40" r="2.25" fill="#fff" stroke="#000" stroke-width="1.0"/>
<circle cx="233.30" cy="464.80" r="2.25" fill="#fff" stroke="#000" stroke-width="1.0"/>
<circle cx="230.40" cy="464.80" r="2.25" fill="#fff" stroke="#000" stroke-width="1.0"/>
<circle cx="233.30" cy="423.30" r="2.25" fill="#fff" stroke="#000" stroke-width="1.0"/>
<circle cx="236.40" cy="423.30" r="2.25" fill="#fff" stroke="#000" stroke-width="1.0"/>
<circle cx="237.00" cy="409.80" r="2.25" fill="#fff" stroke="#000" stroke-width="1.0"/>
<circle cx="242.00" cy="409.80" r="2.25" fill="#fff" stroke="#000" stroke-width="1.0"/>
<circle cx="242.00" cy="368.80" r="2.25" fill="#fff" stroke="#000" stroke-width="1.0"/>
<text x="291.92" y="438.00" font-size="9.18" font-weight="normal" font-style="italic" textLength="6.14" lengthAdjust="spacingAndGlyphs" stroke="#000" stroke-width="0.15" >P</text>
<text x="300.61" y="438.00" font-size="9.57" font-weight="normal" font-style="normal" textLength="27.56" lengthAdjust="spacingAndGlyphs" stroke="#000" stroke-width="0.15" >= 0.46</text>
<path d="M384.10,362.30 L384.10,482.00 L517.00,482.00" fill="none" stroke="#000" stroke-width="1.5"/>
<line x1="381.70" y1="477.40" x2="384.10" y2="477.40" stroke="#000" stroke-width="1.2"/>
<text x="378.20" y="481.30" font-size="8.3" text-anchor="end" stroke="#000" stroke-width="0.15">0</text>
<line x1="381.70" y1="455.44" x2="384.10" y2="455.44" stroke="#000" stroke-width="1.2"/>
<text x="378.20" y="459.34" font-size="8.3" text-anchor="end" stroke="#000" stroke-width="0.15">20</text>
<line x1="381.70" y1="433.48" x2="384.10" y2="433.48" stroke="#000" stroke-width="1.2"/>
<text x="378.20" y="437.38" font-size="8.3" text-anchor="end" stroke="#000" stroke-width="0.15">40</text>
<line x1="381.70" y1="411.52" x2="384.10" y2="411.52" stroke="#000" stroke-width="1.2"/>
<text x="378.20" y="415.42" font-size="8.3" text-anchor="end" stroke="#000" stroke-width="0.15">60</text>
<line x1="381.70" y1="389.56" x2="384.10" y2="389.56" stroke="#000" stroke-width="1.2"/>
<text x="378.20" y="393.46" font-size="8.3" text-anchor="end" stroke="#000" stroke-width="0.15">80</text>
<line x1="381.70" y1="367.60" x2="384.10" y2="367.60" stroke="#000" stroke-width="1.2"/>
<text x="378.20" y="371.50" font-size="8.3" text-anchor="end" stroke="#000" stroke-width="0.15">100</text>
<line x1="388.80" y1="482.00" x2="388.80" y2="484.40" stroke="#000" stroke-width="1.2"/>
<text x="388.80" y="495.90" font-size="8.3" text-anchor="middle" stroke="#000" stroke-width="0.15">0</text>
<line x1="406.30" y1="482.00" x2="406.30" y2="484.40" stroke="#000" stroke-width="1.2"/>
<text x="406.30" y="495.90" font-size="8.3" text-anchor="middle" stroke="#000" stroke-width="0.15">10</text>
<line x1="423.80" y1="482.00" x2="423.80" y2="484.40" stroke="#000" stroke-width="1.2"/>
<text x="423.80" y="495.90" font-size="8.3" text-anchor="middle" stroke="#000" stroke-width="0.15">20</text>
<line x1="441.30" y1="482.00" x2="441.30" y2="484.40" stroke="#000" stroke-width="1.2"/>
<text x="441.30" y="495.90" font-size="8.3" text-anchor="middle" stroke="#000" stroke-width="0.15">30</text>
<line x1="458.80" y1="482.00" x2="458.80" y2="484.40" stroke="#000" stroke-width="1.2"/>
<text x="458.80" y="495.90" font-size="8.3" text-anchor="middle" stroke="#000" stroke-width="0.15">40</text>
<line x1="476.30" y1="482.00" x2="476.30" y2="484.40" stroke="#000" stroke-width="1.2"/>
<text x="476.30" y="495.90" font-size="8.3" text-anchor="middle" stroke="#000" stroke-width="0.15">50</text>
<line x1="493.80" y1="482.00" x2="493.80" y2="484.40" stroke="#000" stroke-width="1.2"/>
<text x="493.80" y="495.90" font-size="8.3" text-anchor="middle" stroke="#000" stroke-width="0.15">60</text>
<line x1="511.30" y1="482.00" x2="511.30" y2="484.40" stroke="#000" stroke-width="1.2"/>
<text x="511.30" y="495.90" font-size="8.3" text-anchor="middle" stroke="#000" stroke-width="0.15">70</text>
<text x="420.43" y="509.20" font-size="9.65" font-weight="normal" font-style="normal" textLength="66.17" lengthAdjust="spacingAndGlyphs" stroke="#000" stroke-width="0.15" >Days post BMT</text>
<text transform="translate(359.27,459.50) rotate(-90)" x="0" y="0" font-size="9.20" font-weight="normal" textLength="74.72" lengthAdjust="spacingAndGlyphs" stroke="#000" stroke-width="0.15">GVHD death (%)</text>
<path d="M389.20,477.30 L511.30,477.30" fill="none" stroke="#000" stroke-width="1.40" stroke-linejoin="miter"/>
<path d="M389.20,477.00 L423.60,477.00" fill="none" stroke="#000" stroke-width="2.20" stroke-linejoin="miter"/>
<path d="M412.00,477.30 L412.00,470.70 L432.60,470.70 L432.50,463.30 L438.30,463.30 L438.30,456.20 L443.50,456.20 L443.50,449.20 L450.40,449.20 L450.40,442.70 L459.40,442.70 L459.40,435.80 L496.00,435.80" fill="none" stroke="#000" stroke-width="1.40" stroke-linejoin="miter"/>
<rect x="386.55" y="474.65" width="5.30" height="5.30" fill="#b8b8b8" stroke="#3a3a3a" stroke-width="0.9"/>
<rect x="508.65" y="474.45" width="5.30" height="5.30" fill="#b8b8b8" stroke="#3a3a3a" stroke-width="0.9"/>
<circle cx="412.00" cy="477.30" r="2.50" fill="#000" stroke="#000" stroke-width="0.4"/>
<circle cx="412.00" cy="470.70" r="2.50" fill="#000" stroke="#000" stroke-width="0.4"/>
<circle cx="432.60" cy="470.70" r="2.50" fill="#000" stroke="#000" stroke-width="0.4"/>
<circle cx="432.50" cy="463.30" r="2.50" fill="#000" stroke="#000" stroke-width="0.4"/>
<circle cx="438.30" cy="463.30" r="2.50" fill="#000" stroke="#000" stroke-width="0.4"/>
<circle cx="438.30" cy="456.20" r="2.50" fill="#000" stroke="#000" stroke-width="0.4"/>
<circle cx="443.50" cy="456.20" r="2.50" fill="#000" stroke="#000" stroke-width="0.4"/>
<circle cx="443.50" cy="449.20" r="2.50" fill="#000" stroke="#000" stroke-width="0.4"/>
<circle cx="450.40" cy="449.20" r="2.50" fill="#000" stroke="#000" stroke-width="0.4"/>
<circle cx="450.40" cy="442.70" r="2.50" fill="#000" stroke="#000" stroke-width="0.4"/>
<circle cx="459.40" cy="442.70" r="2.50" fill="#000" stroke="#000" stroke-width="0.4"/>
<circle cx="459.40" cy="435.80" r="2.50" fill="#000" stroke="#000" stroke-width="0.4"/>
<circle cx="496.00" cy="435.80" r="2.50" fill="#000" stroke="#000" stroke-width="0.4"/>
<circle cx="389.20" cy="477.30" r="2.25" fill="#fff" stroke="#000" stroke-width="1.0"/>
<circle cx="423.60" cy="477.30" r="2.25" fill="#fff" stroke="#000" stroke-width="1.0"/>
<text x="466.91" y="461.00" font-size="9.40" font-weight="normal" font-style="normal" stroke="#000" stroke-width="0.15">**</text>
<text x="473.50" y="461.00" font-size="9.85" font-weight="normal" font-style="italic" textLength="6.56" lengthAdjust="spacingAndGlyphs" stroke="#000" stroke-width="0.15" >P</text>
<text x="482.03" y="461.00" font-size="9.40" font-weight="normal" font-style="normal" stroke="#000" stroke-width="0.15">= 0.0082</text>
</svg></body></html>
